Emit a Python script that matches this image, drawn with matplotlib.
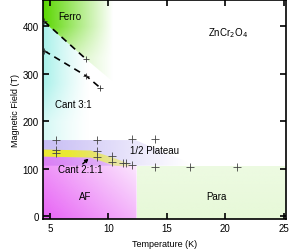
import numpy as np
import matplotlib
matplotlib.use("Agg")
import matplotlib.pyplot as plt
from matplotlib.patches import Polygon

plt.rcParams['font.family'] = ['Liberation Sans', 'DejaVu Sans']

# phase boundary lines (dashed, with measured points)
line1_T = [4.5, 8.1]
line1_H = [410, 330]
line2_T = [4.5, 8.1, 9.3]
line2_H = [348, 295, 270]

# measured transition points
pts_T = [5.5, 5.5, 5.5, 9.0, 9.0, 9.0, 10.3, 10.3, 11.2, 11.5, 12.0, 12.0, 14.0, 14.0, 17.0, 21.0]
pts_H = [160, 140, 132, 160, 136, 125, 126, 113, 112, 111, 107, 162, 162, 104, 104, 104]

# region outlines (T, H)
ferro_T = [4.4, 4.4, 8.1, 11.0, 11.0]
ferro_H = [460, 410, 330, 270, 460]
cant31_T = [4.4, 4.4, 8.1, 11.0, 11.0]
cant31_H = [160, 410, 330, 270, 160]
plateau_T = [4.4, 12.3, 17.5, 4.4]
plateau_H = [160, 160, 106, 106]
cant211_T = [4.4, 8.5, 10.5, 11.8, 11.8, 10.5, 8.5, 4.4]
cant211_H = [140, 138, 122, 110, 104, 106, 123, 125]
af_T = [4.4, 4.4, 8.5, 10.5, 12.4, 12.4]
af_H = [-6, 125, 123, 106, 106, -6]
para_T = [12.4, 12.4, 25.2, 25.2]
para_H = [-6, 106, 106, -6]

labels = ["Ferro", "Cant 3:1", "1/2 Plateau", "AF", "Para"]
label_T = [6.7, 7.0, 13.9, 8.0, 19.2]
label_H = [421, 236, 140, 43, 43]

xlim = (4.4, 25.2)
ylim = (-6, 455)

fig = plt.figure(figsize=(2.91, 2.51), dpi=100)
ax = fig.add_axes([0.148, 0.124, 0.835, 0.872])
ax.set_xlim(*xlim)
ax.set_ylim(*ylim)

gx = np.linspace(xlim[0], xlim[1], 300)
gy = np.linspace(ylim[0], ylim[1], 300)
X, Y = np.meshgrid(gx, gy)


def shade(rgb, alpha, Tpts, Hpts):
    img = np.zeros(X.shape + (4,))
    img[..., :3] = np.array(rgb) / 255.0
    img[..., 3] = np.clip(alpha, 0, 1)
    poly = Polygon(np.column_stack([Tpts, Hpts]), closed=True,
                   facecolor='none', edgecolor='none')
    ax.add_patch(poly)
    im = ax.imshow(img, extent=(xlim[0], xlim[1], ylim[0], ylim[1]),
                   origin='lower', aspect='auto', interpolation='bilinear')
    im.set_clip_path(poly)


shade((90, 215, 0), (1 - (X - 4.4) / 6.0) * np.clip((Y - 280) / 120, 0.45, 1), ferro_T, ferro_H)
shade((130, 235, 225), 0.7 * np.clip(1 - (X - 4.4) / 4.0, 0, 1) ** 1.3 * np.clip((Y - 120) / 160, 0.5, 1),
      cant31_T, cant31_H)
shade((175, 160, 240), 0.7 * (1 - (X - 4.4) / 12.5), plateau_T, plateau_H)
shade((238, 238, 30), 0.9 * np.clip(1.3 - (X - 4.4) / 7.5, 0, 1), cant211_T, cant211_H)
shade((230, 90, 245), 0.95 - ((X - 4.4) / 8.0 * 0.5 + (Y + 6) / 131 * 0.35), af_T, af_H)
shade((215, 245, 190), 0.6 - (Y + 6) / 112 * 0.15, para_T, para_H)

ax.plot(line1_T, line1_H, color='black', ls=(0, (4, 3)), lw=1.2,
        marker='+', ms=5, mew=0.6, mec='#333333')
ax.plot(line2_T, line2_H, color='black', ls=(0, (4, 3)), lw=1.2,
        marker='+', ms=5, mew=0.6, mec='#333333')
ax.plot(pts_T, pts_H, ls='none', marker='+', ms=6, mew=0.6, color='#444444')

for s, t, h in zip(labels, label_T, label_H):
    ax.text(t, h, s, ha='center', va='center', fontsize=7)
ax.text(7.6, 100, "Cant 2:1:1", ha='center', va='center', fontsize=7)
ax.annotate("", xy=(8.3, 121), xytext=(7.8, 110),
            arrowprops=dict(arrowstyle='-|>', color='black', lw=1.0,
                            mutation_scale=5, shrinkA=0, shrinkB=0))
ax.text(20.2, 387, "ZnCr$_2$O$_4$", ha='center', va='center', fontsize=7)

ax.set_xticks([5, 10, 15, 20, 25])
ax.set_yticks([0, 100, 200, 300, 400])
ax.tick_params(direction='in', length=4, width=1.2, labelsize=7,
               top=True, right=True, pad=3)
for sp in ax.spines.values():
    sp.set_linewidth(1.2)
ax.set_xlabel("Temperature (K)", fontsize=6.5, labelpad=4)
ax.set_ylabel("Magnetic Field (T)", fontsize=6.5, labelpad=2)

fig.savefig("out.png", dpi=100)
